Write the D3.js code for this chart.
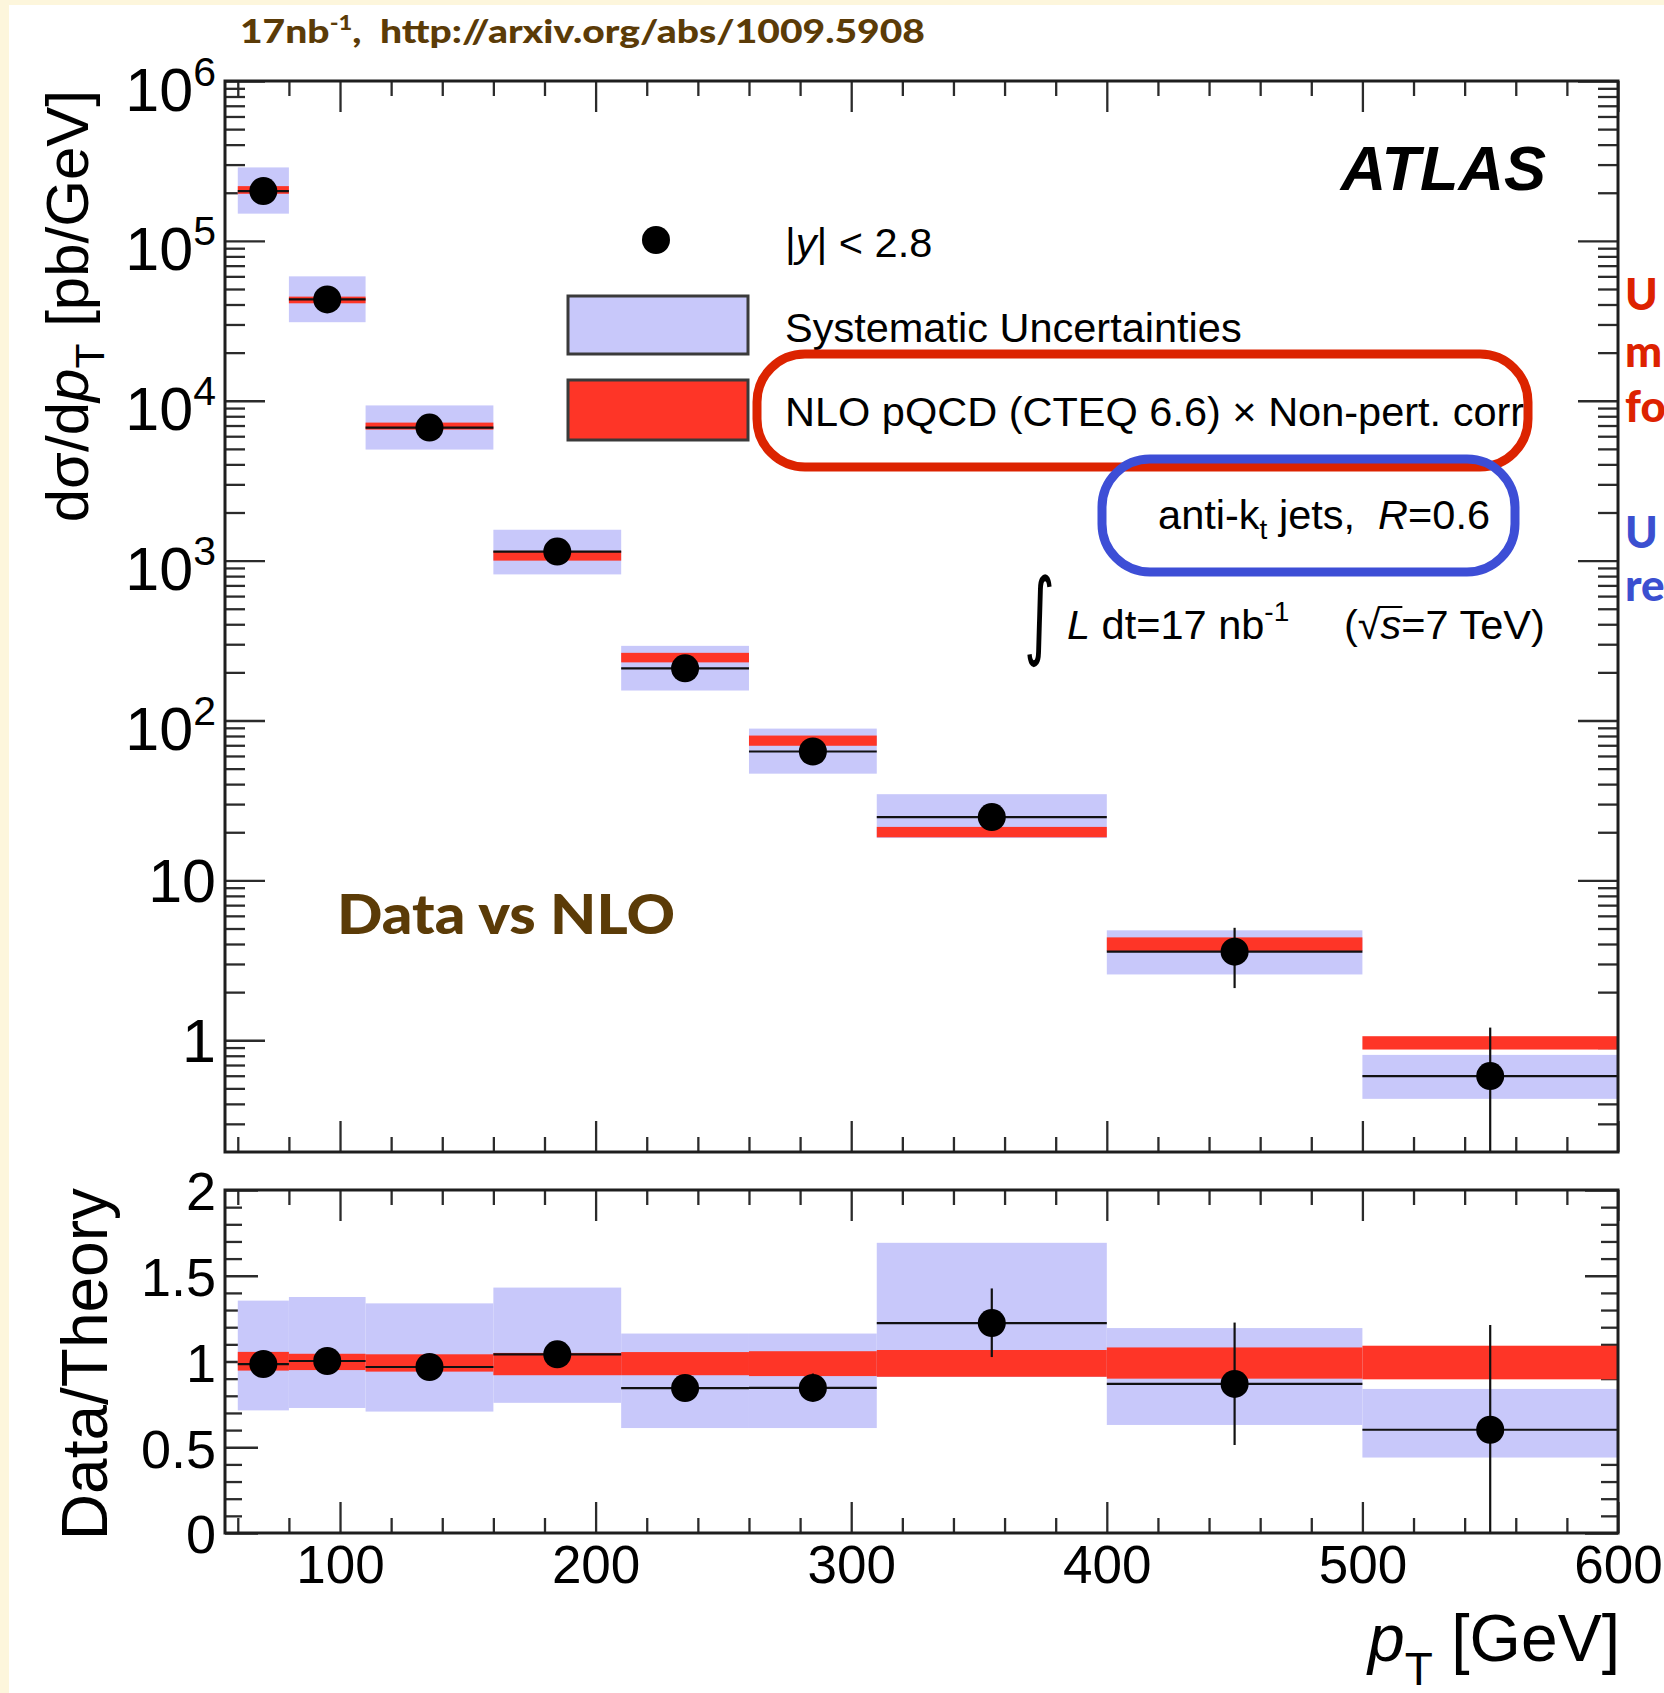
<!DOCTYPE html>
<html><head><meta charset="utf-8">
<script src="https://cdn.jsdelivr.net/npm/d3@7"></script>
<style>html,body{margin:0;padding:0;background:#fdf6dc;} svg{display:block} text{white-space:pre}</style>
</head><body>
<svg id="c" width="1664" height="1693"></svg>
<script>
// ---------------- data ----------------
const binEdges   = [60, 80, 110, 160, 210, 260, 310, 400, 500, 600];
const binCenters = [70, 95, 135, 185, 235, 285, 355, 450, 550];
// measured cross section dsigma/dpT [pb/GeV]
const xsec       = [2.05e5, 4.3e4, 6.8e3, 1.14e3, 212, 64, 24.9, 3.58, 0.597];
const xsecStatLo = [2.0e5, 4.23e4, 6.7e3, 1.12e3, 206, 58.5, 20.8, 2.12, 0];
const xsecStatHi = [2.1e5, 4.37e4, 6.9e3, 1.16e3, 218, 70, 29, 5.05, 1.2];
const xsecSysLo  = [1.48e5, 3.1e4, 4.95e3, 8.2e2, 154, 46.5, 18.4, 2.58, 0.43];
const xsecSysHi  = [2.88e5, 6.0e4, 9.35e3, 1.56e3, 293, 89, 34.6, 4.87, 0.81];
// NLO pQCD x non-pert. corr. band
const theoryLo   = [1.97e5, 4.07e4, 6.6e3, 1.0e3, 231, 69.5, 18.6, 3.62, 0.875];
const theoryHi   = [2.2e5, 4.48e4, 7.3e3, 1.15e3, 265, 80.5, 21.6, 4.4, 1.06];
// Data / Theory
const ratio         = [0.985, 1.003, 0.968, 1.042, 0.845, 0.846, 1.224, 0.869, 0.602];
const ratioStatLo   = [0.97, 0.99, 0.955, 1.025, 0.82, 0.77, 1.026, 0.513, 0];
const ratioStatHi   = [1.0, 1.016, 0.981, 1.06, 0.87, 0.93, 1.426, 1.227, 1.213];
const ratioSysLo    = [0.715, 0.729, 0.708, 0.759, 0.612, 0.612, 0.91, 0.63, 0.44];
const ratioSysHi    = [1.355, 1.376, 1.339, 1.431, 1.163, 1.163, 1.692, 1.195, 0.84];
const ratioTheoryLo = [0.947, 0.95, 0.941, 0.92, 0.92, 0.915, 0.911, 0.90, 0.896];
const ratioTheoryHi = [1.056, 1.045, 1.042, 1.05, 1.055, 1.06, 1.067, 1.082, 1.092];
// ticks
const xMajorTicks     = [100, 200, 300, 400, 500, 600];
const logMajorTicks   = [1, 10, 100, 1e3, 1e4, 1e5, 1e6];
const ratioMajorTicks = [0, 0.5, 1, 1.5, 2];

// ---------------- setup ----------------
const FONT = "'Liberation Sans', Arial, Helvetica, sans-serif";
const GILL = "Lato, 'Open Sans', sans-serif";
const BLUE = "#c8c8fa", RED = "#fe3527", BROWN = "#5b3b07";
const svg = d3.select('#c');
svg.append('rect').attr('x', 9).attr('y', 5).attr('width', 1664 - 9).attr('height', 1693 - 5).attr('fill', '#fff');

const X0 = 225, X1 = 1618, T0 = 81, T1 = 1152, L0 = 1190, L1 = 1533;
const x  = d3.scaleLinear().domain([55, 600]).range([X0, X1]);
const y  = d3.scaleLog().domain([0.2, 1e6]).range([T1, T0]);
const yr = d3.scaleLinear().domain([0, 2]).range([L1, L0]);
const yc = v => y(Math.max(v, 0.2));

const xMinor = d3.range(60, 600, 20).filter(v => v % 100 !== 0);
const logMinor = [];
for (let e = -1; e < 6; e++) for (let m = 2; m < 10; m++) { const v = m * Math.pow(10, e); if (v > 0.2 && v < 1e6) logMinor.push(v); }
const ratioMinor = d3.range(1, 20).map(i => i / 10).filter(v => Math.abs(v * 2 - Math.round(v * 2)) > 1e-6);

function axis(gen, scale, vals, size, tx, ty, fmt, pad) {
  const g = svg.append('g').attr('transform', `translate(${tx},${ty})`);
  const a = gen(scale).tickValues(vals).tickSizeInner(-size).tickSizeOuter(0).tickPadding(pad || 3).tickFormat(fmt || (() => ''));
  g.call(a);
  g.select('.domain').remove();
  g.selectAll('.tick line').attr('stroke', '#2b2b2b').attr('stroke-width', 2.3);
  g.selectAll('.tick text').attr('font-family', FONT).attr('font-size', 53).attr('fill', '#000');
  return g;
}

// ---- top panel ticks
axis(d3.axisBottom, x, xMajorTicks, 31, 0, T1);
axis(d3.axisBottom, x, xMinor, 15, 0, T1);
axis(d3.axisTop, x, xMajorTicks, 31, 0, T0);
axis(d3.axisTop, x, xMinor, 15, 0, T0);
const gLogL = axis(d3.axisLeft, y, logMajorTicks, 40, X0, 0, null, 9);
axis(d3.axisLeft, y, logMinor, 20, X0, 0);
axis(d3.axisRight, y, logMajorTicks, 40, X1, 0);
axis(d3.axisRight, y, logMinor, 20, X1, 0);
gLogL.selectAll('.tick').each(function (d) {
  const g = d3.select(this);
  g.select('text').remove();
  const e = Math.round(Math.log10(d));
  const t = g.append('text').attr('x', -9).attr('text-anchor', 'end')
    .attr('font-family', FONT).attr('font-size', 61).attr('fill', '#000');
  if (e >= 2) {
    t.attr('y', 29).text('10');
    t.append('tspan').attr('font-size', 41).attr('dy', -25).text(e);
  } else {
    t.attr('y', 21).text(e === 1 ? '10' : '1');
  }
});

// ---- lower panel ticks
axis(d3.axisBottom, x, xMajorTicks, 31, 0, L1, d => String(d), 12);
axis(d3.axisBottom, x, xMinor, 15, 0, L1);
axis(d3.axisTop, x, xMajorTicks, 31, 0, L0);
axis(d3.axisTop, x, xMinor, 15, 0, L0);
const gRL = axis(d3.axisLeft, yr, ratioMajorTicks, 33, X0, 0, d => String(d), 9);
gRL.selectAll('.tick text').attr('dy', '0.37em').attr('font-size', 54);
axis(d3.axisLeft, yr, ratioMinor, 17, X0, 0);
axis(d3.axisRight, yr, ratioMajorTicks, 33, X1, 0);
axis(d3.axisRight, yr, ratioMinor, 17, X1, 0);

// ---------------- top panel marks ----------------
const idx = d3.range(binCenters.length);
const bx = i => x(binEdges[i]), bw = i => x(binEdges[i + 1]) - x(binEdges[i]);
const gTop = svg.append('g');
gTop.selectAll('rect.sys').data(idx).join('rect').attr('class', 'sys')
  .attr('x', bx).attr('width', bw)
  .attr('y', i => y(xsecSysHi[i])).attr('height', i => y(xsecSysLo[i]) - y(xsecSysHi[i]))
  .attr('fill', BLUE);
gTop.selectAll('rect.th').data(idx).join('rect').attr('class', 'th')
  .attr('x', bx).attr('width', bw)
  .attr('y', i => y(theoryHi[i])).attr('height', i => y(theoryLo[i]) - y(theoryHi[i]))
  .attr('fill', RED);
gTop.selectAll('line.h').data(idx).join('line').attr('class', 'h')
  .attr('x1', bx).attr('x2', i => bx(i) + bw(i))
  .attr('y1', i => y(xsec[i])).attr('y2', i => y(xsec[i]))
  .attr('stroke', '#111').attr('stroke-width', 2.2);
gTop.selectAll('line.v').data(idx).join('line').attr('class', 'v')
  .attr('x1', i => x(binCenters[i])).attr('x2', i => x(binCenters[i]))
  .attr('y1', i => yc(xsecStatHi[i])).attr('y2', i => yc(xsecStatLo[i]))
  .attr('stroke', '#111').attr('stroke-width', 2.2);
gTop.selectAll('circle').data(idx).join('circle')
  .attr('cx', i => x(binCenters[i])).attr('cy', i => y(xsec[i])).attr('r', 14).attr('fill', '#000');

// ---------------- lower panel marks ----------------
const gLow = svg.append('g');
gLow.selectAll('rect.sys').data(idx).join('rect').attr('class', 'sys')
  .attr('x', bx).attr('width', bw)
  .attr('y', i => yr(ratioSysHi[i])).attr('height', i => yr(ratioSysLo[i]) - yr(ratioSysHi[i]))
  .attr('fill', BLUE);
gLow.selectAll('rect.th').data(idx).join('rect').attr('class', 'th')
  .attr('x', bx).attr('width', bw)
  .attr('y', i => yr(ratioTheoryHi[i])).attr('height', i => yr(ratioTheoryLo[i]) - yr(ratioTheoryHi[i]))
  .attr('fill', RED);
gLow.selectAll('line.h').data(idx).join('line').attr('class', 'h')
  .attr('x1', bx).attr('x2', i => bx(i) + bw(i))
  .attr('y1', i => yr(ratio[i])).attr('y2', i => yr(ratio[i]))
  .attr('stroke', '#111').attr('stroke-width', 2.2);
gLow.selectAll('line.v').data(idx).join('line').attr('class', 'v')
  .attr('x1', i => x(binCenters[i])).attr('x2', i => x(binCenters[i]))
  .attr('y1', i => yr(ratioStatHi[i])).attr('y2', i => yr(ratioStatLo[i]))
  .attr('stroke', '#111').attr('stroke-width', 2.2);
gLow.selectAll('circle').data(idx).join('circle')
  .attr('cx', i => x(binCenters[i])).attr('cy', i => yr(ratio[i])).attr('r', 14).attr('fill', '#000');

// frames
[[T0, T1], [L0, L1]].forEach(([a, b]) => {
  svg.append('rect').attr('x', X0).attr('y', a).attr('width', X1 - X0).attr('height', b - a)
    .attr('fill', 'none').attr('stroke', '#1e1e1e').attr('stroke-width', 3);
});

// ---------------- axis titles ----------------
function txt(xp, yp, size, opts) {
  const t = svg.append('text').attr('x', xp).attr('y', yp).attr('font-family', (opts && opts.family) || FONT)
    .attr('font-size', size).attr('fill', (opts && opts.fill) || '#000');
  if (opts && opts.anchor) t.attr('text-anchor', opts.anchor);
  if (opts && opts.weight) t.attr('font-weight', opts.weight);
  if (opts && opts.style) t.attr('font-style', opts.style);
  return t;
}
// y title top
{
  const t = svg.append('text').attr('transform', 'translate(88,90) rotate(-90)').attr('text-anchor', 'end')
    .attr('font-family', FONT).attr('font-size', 60).attr('fill', '#000');
  t.append('tspan').text('dσ/d');
  t.append('tspan').attr('font-style', 'italic').text('p');
  t.append('tspan').attr('font-size', 41).attr('dy', 16).text('T');
  t.append('tspan').attr('dy', -16).text(' [pb/GeV]');
}
// y title lower
svg.append('text').attr('transform', 'translate(107,1188) rotate(-90)').attr('text-anchor', 'end')
  .attr('font-family', FONT).attr('font-size', 64).attr('fill', '#000').text('Data/Theory');
// x title
{
  const t = txt(1620, 1661, 66, { anchor: 'end' });
  t.append('tspan').attr('font-style', 'italic').text('p');
  t.append('tspan').attr('font-size', 46).attr('dy', 24).text('T');
  t.append('tspan').attr('dy', -24).text(' [GeV]');
}

// ---------------- legend & labels ----------------
svg.append('circle').attr('cx', 656).attr('cy', 240).attr('r', 14).attr('fill', '#000');
{
  const t = txt(785, 257, 41.5);
  t.append('tspan').text('|');
  t.append('tspan').attr('font-style', 'italic').text('y');
  t.append('tspan').text('| < 2.8');
}
svg.append('rect').attr('x', 568).attr('y', 296).attr('width', 180).attr('height', 58)
  .attr('fill', BLUE).attr('stroke', '#3a3a3a').attr('stroke-width', 3);
txt(785, 342, 41.5).text('Systematic Uncertainties');
svg.append('rect').attr('x', 568).attr('y', 380).attr('width', 180).attr('height', 60)
  .attr('fill', RED).attr('stroke', '#3a3a3a').attr('stroke-width', 3);
txt(785, 426, 41.5).text('NLO pQCD (CTEQ 6.6) × Non-pert. corr');
{
  const t = txt(1490, 529, 41.5, { anchor: 'end' });
  t.append('tspan').text('anti-k');
  t.append('tspan').attr('font-size', 28).attr('dy', 10).text('t');
  t.append('tspan').attr('dy', -10).text(' jets,  ');
  t.append('tspan').attr('font-style', 'italic').text('R');
  t.append('tspan').text('=0.6');
}
// luminosity line
svg.append('text').attr('transform', 'translate(1024,647) scale(0.62,1)')
  .attr('font-family', "'DejaVu Sans', sans-serif").attr('font-size', 96).attr('fill', '#000').text('∫');
{
  const t = txt(1067, 639, 41.5);
  t.append('tspan').attr('font-style', 'italic').text('L');
  t.append('tspan').text(' dt=17 nb');
  t.append('tspan').attr('font-size', 28).attr('dy', -18).text('-1');
}
{
  const t = txt(1344, 639, 41.5);
  t.append('tspan').text('(√');
  t.append('tspan').attr('font-style', 'italic').text('s');
  t.append('tspan').text('=7 TeV)');
  const n = t.node();
  try {
    const s0 = n.getStartPositionOfChar(2).x, s1 = n.getEndPositionOfChar(2).x;
    svg.append('line').attr('x1', s0 - 2).attr('x2', s1 + 1).attr('y1', 607).attr('y2', 607)
      .attr('stroke', '#000').attr('stroke-width', 2);
  } catch (e) {}
}
txt(1546, 190, 63, { anchor: 'end', weight: 'bold', style: 'italic' }).text('ATLAS');

// highlight frames
svg.append('rect').attr('x', 757).attr('y', 354).attr('width', 771).attr('height', 113).attr('rx', 48)
  .attr('fill', 'none').attr('stroke', '#dc2300').attr('stroke-width', 9);
svg.append('rect').attr('x', 1102).attr('y', 459).attr('width', 413).attr('height', 113).attr('rx', 48)
  .attr('fill', 'none').attr('stroke', '#3d4ed6').attr('stroke-width', 9);

// brown annotations
{
  const t = txt(240, 43, 33, { family: GILL, weight: 900, fill: BROWN });
  t.append('tspan').text('17nb');
  t.append('tspan').attr('font-size', 20).attr('dy', -13).text('-1');
  t.append('tspan').attr('dy', 13).text(',  http://arxiv.org/abs/1009.5908');
  t.attr('textLength', 685).attr('lengthAdjust', 'spacingAndGlyphs');
}
txt(337, 934, 55, { family: GILL, weight: 900, fill: BROWN }).attr('textLength', 338).attr('lengthAdjust', 'spacingAndGlyphs').text('Data vs NLO');

// clipped side notes
const sideRed = ['U', 'm', 'fo'], sideBlue = ['U', 're'];
[310, 367, 422].forEach((yy, i) => txt(1625, yy, 44, { family: GILL, weight: 900, fill: '#dd2200' }).text(sideRed[i]));
[548, 601].forEach((yy, i) => txt(1625, yy, 44, { family: GILL, weight: 900, fill: '#3b4fd0' }).text(sideBlue[i]));
</script>
</body></html>
